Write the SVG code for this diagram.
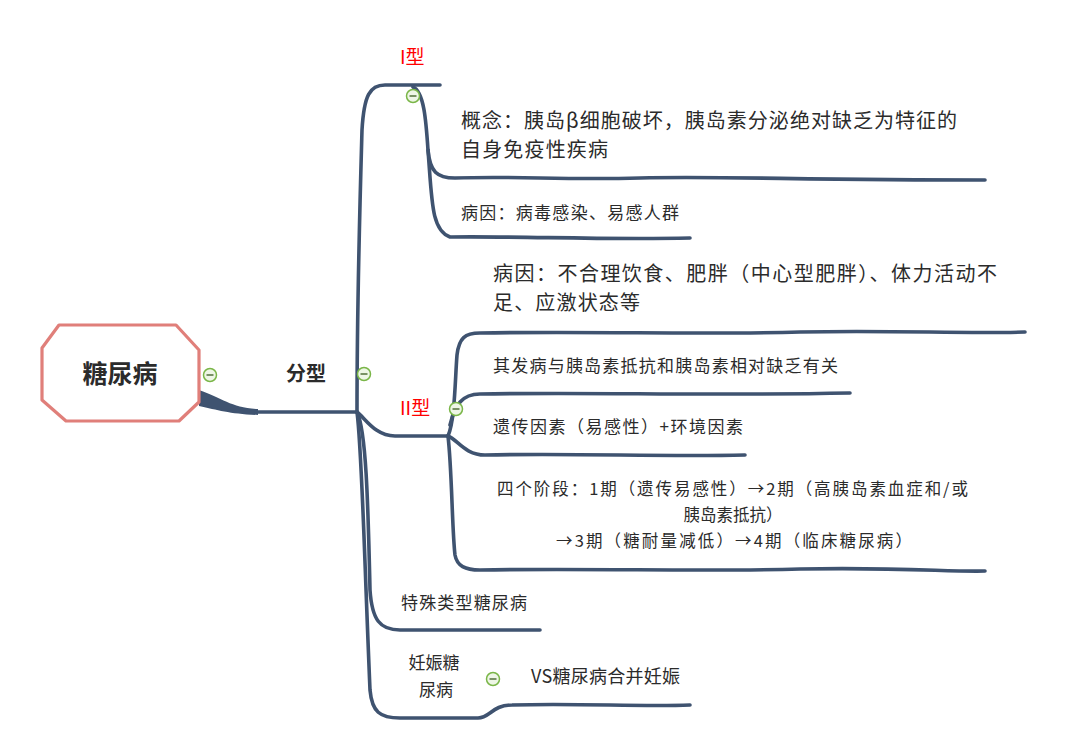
<svg xmlns="http://www.w3.org/2000/svg" width="1066" height="749" viewBox="0 0 1066 749">
<style>
.c{fill:none;stroke:#3F5370;stroke-width:3.6;stroke-linecap:round;stroke-linejoin:round}
.t{font-family:"Noto Sans CJK SC","Liberation Sans",sans-serif;fill:#2b2b2b}
.r{font-family:"Noto Sans CJK SC","Liberation Sans",sans-serif;fill:#ff0000;font-size:19px}
.b{font-weight:bold}
.ic circle{fill:#eef6e6;stroke:#7ab648;stroke-width:1.5}
.ic line{stroke:#3a5a20;stroke-width:1.3}
</style>
<defs>
<g id="icon" class="ic"><circle cx="0" cy="0" r="6.5"/><line x1="-3.5" y1="0" x2="3.5" y2="0"/></g>
</defs>
<rect width="1066" height="749" fill="#fff"/>
<g id="connectors">
<path d="M199 390 C222 398 232 408 258 409 L258 415 C230 414 218 410 199 406 Z" fill="#3F5370"/>
<path class="c" d="M256 412 L357 412"/>
<path class="c" d="M357 412 C357 300 360 200 362 130 C364 95 370 85 385 85 L440 85"/>
<path class="c" d="M413 87 C424 92 426 120 428 150 C430 172 437 178 455 178 C520 176 560 180 640 178 C720 176 800 180 985 180"/>
<path class="c" d="M428 150 C432 200 431 230 450 237 C520 236 600 240 690 238"/>
<path class="c" d="M357 412 C365 418 375 436 395 436 L448 436"/>
<path class="c" d="M448 436 C455 420 455 380 457 355 C459 338 465 333 480 333 C600 331 700 335 800 332 C900 330 960 334 1025 332"/>
<path class="c" d="M450 425 C455 405 462 394 480 394 C600 392 700 396 850 393"/>
<path class="c" d="M448 436 C458 440 465 455 485 455 C580 453 660 457 745 455"/>
<path class="c" d="M448 436 C452 470 452 530 455 555 C457 566 465 570 480 570 C600 568 700 572 800 569 C900 567 950 572 985 571"/>
<path class="c" d="M357 412 C366 430 368 500 370 590 C372 620 380 630 400 630 L540 630"/>
<path class="c" d="M357 412 C362 450 364 550 370 690 C372 712 380 718 400 718 L478 718 C490 718 492 705 512 705 C580 703 640 707 690 705"/>
</g>
<g id="root">
<polygon points="59,325 176,325 199,350 199,402 179,421 66,421 42,400 42,348" fill="#fff" stroke="#E07F7A" stroke-width="3.2" stroke-linejoin="round"/>
<text class="t b" x="120" y="383" font-size="25" text-anchor="middle">糖尿病</text>
<use href="#icon" x="210" y="375"/>
</g>
<g id="fenxing">
<text class="t b" x="306" y="381" font-size="20" text-anchor="middle">分型</text>
<use href="#icon" x="364" y="374"/>
</g>
<g id="type1">
<text class="r" x="400" y="64">I型</text>
<use href="#icon" x="413" y="96"/>
</g>
<g id="type1-concept">
<text class="t" x="461" y="128" font-size="20" textLength="496" lengthAdjust="spacing">概念：胰岛β细胞破坏，胰岛素分泌绝对缺乏为特征的</text>
<text class="t" x="461" y="157" font-size="20" textLength="147" lengthAdjust="spacing">自身免疫性疾病</text>
</g>
<g id="type1-cause">
<text class="t" x="461" y="219" font-size="17" textLength="218" lengthAdjust="spacing">病因：病毒感染、易感人群</text>
</g>
<g id="type2">
<text class="r" x="400" y="415">II型</text>
<use href="#icon" x="456" y="409"/>
</g>
<g id="type2-cause">
<text class="t" x="493" y="281" font-size="20" textLength="504" lengthAdjust="spacing">病因：不合理饮食、肥胖（中心型肥胖）、体力活动不</text>
<text class="t" x="493" y="310" font-size="20" textLength="147" lengthAdjust="spacing">足、应激状态等</text>
</g>
<g id="type2-mech">
<text class="t" x="493" y="372" font-size="17" textLength="345" lengthAdjust="spacing">其发病与胰岛素抵抗和胰岛素相对缺乏有关</text>
</g>
<g id="type2-factor">
<text class="t" x="493" y="433" font-size="17" textLength="250" lengthAdjust="spacing">遗传因素（易感性）+环境因素</text>
</g>
<g id="type2-stages">
<text class="t" x="497" y="495" font-size="16.5" textLength="471" lengthAdjust="spacing">四个阶段：1期（遗传易感性）→2期（高胰岛素血症和/或</text>
<text class="t" x="733" y="521" font-size="16.5" text-anchor="middle">胰岛素抵抗）</text>
<text class="t" x="556" y="547" font-size="16.5" textLength="356" lengthAdjust="spacing">→3期（糖耐量减低）→4期（临床糖尿病）</text>
</g>
<g id="special">
<text class="t" x="401" y="609" font-size="17" textLength="126" lengthAdjust="spacing">特殊类型糖尿病</text>
</g>
<g id="gestational">
<text class="t" x="434" y="669" font-size="17" text-anchor="middle">妊娠糖</text>
<text class="t" x="436" y="696" font-size="17" text-anchor="middle">尿病</text>
<use href="#icon" x="493" y="679"/>
</g>
<g id="vs">
<text class="t" x="531" y="683" font-size="18" textLength="149" lengthAdjust="spacing">VS糖尿病合并妊娠</text>
</g>
</svg>
